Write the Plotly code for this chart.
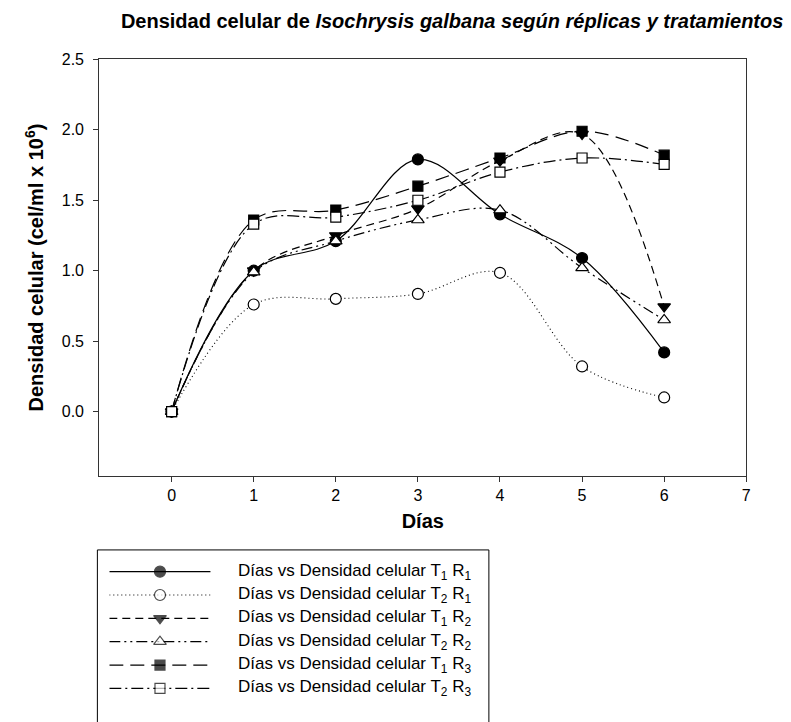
import plotly.graph_objects as go

W, H = 791, 722

# ---------------- data ----------------
dias = [0, 1, 2, 3, 4, 5, 6]
t1r1 = [0.00, 1.00, 1.21, 1.79, 1.40, 1.09, 0.42]
t2r1 = [0.00, 0.76, 0.80, 0.835, 0.985, 0.32, 0.10]
t1r2 = [0.00, 1.00, 1.25, 1.44, 1.78, 1.97, 0.745]
t2r2 = [0.00, 0.99, 1.21, 1.36, 1.43, 1.02, 0.65]
t1r3 = [0.00, 1.36, 1.43, 1.60, 1.80, 1.99, 1.82]
t2r3 = [0.00, 1.33, 1.38, 1.50, 1.70, 1.80, 1.755]

series_names = [
    "Días vs Densidad celular T<sub>1</sub> R<sub>1</sub>",
    "Días vs Densidad celular T<sub>2</sub> R<sub>1</sub>",
    "Días vs Densidad celular T<sub>1</sub> R<sub>2</sub>",
    "Días vs Densidad celular T<sub>2</sub> R<sub>2</sub>",
    "Días vs Densidad celular T<sub>1</sub> R<sub>3</sub>",
    "Días vs Densidad celular T<sub>2</sub> R<sub>3</sub>",
]
series_values = [t1r1, t2r1, t1r2, t2r2, t1r3, t2r3]

x_ticks = [0, 1, 2, 3, 4, 5, 6, 7]
y_ticks = [0.0, 0.5, 1.0, 1.5, 2.0, 2.5]

# ---------------- styles ----------------
symbols = ["circle", "circle-open", "triangle-down", "triangle-up-open", "square", "square-open"]
fills = ["black", "white", "black", "white", "black", "white"]
sizes = [11, 11, 11, 11, 10, 10]
dashes = ["solid", "1px,3px", "8px,5px", "11px,4px,2px,4px,2px,4px", "14px,7px", "12px,4px,2px,4px"]
line_widths = [1.2, 1.1, 1.2, 1.2, 1.2, 1.2]

FONT = "Liberation Sans, Arial, sans-serif"

# pixel layout helpers (paper == whole figure, margins 0)
def px(x):
    return x / W

def py(y):
    return 1 - y / H

plot_l, plot_r, plot_t, plot_b = 100, 751, 52, 473

fig = go.Figure()

for name, vals, sym, fc, sz, dash, lw in zip(series_names, series_values, symbols, fills, sizes, dashes, line_widths):
    fig.add_trace(go.Scatter(
        x=dias, y=vals, name=name, mode="lines+markers",
        line=dict(color="black", width=lw, dash=dash, shape="spline", smoothing=1),
        marker=dict(symbol=sym.replace("-open", ""), size=sz, color=fc,
                    line=dict(color="black", width=1.2)),
        showlegend=False, xaxis="x", yaxis="y",
    ))

# ---------------- custom legend (long line samples) ----------------
legend_rows = list(range(len(series_names)))
for i, (name, sym, fc, sz, dash, lw) in enumerate(zip(series_names, symbols, fills, sizes, dashes, line_widths)):
    fig.add_trace(go.Scatter(
        x=[0, 0.5, 1], y=[legend_rows[i]] * 3, mode="lines+markers",
        line=dict(color="black", width=lw, dash=dash),
        marker=dict(symbol=sym.replace("-open", ""), size=[0, sz, 0], color=fc,
                    line=dict(color="black", width=[0, 1.2, 0])),
        showlegend=False, hoverinfo="skip", xaxis="x2", yaxis="y2",
    ))

row0, row_step = 570, 23.6
annotations = []
for i, name in enumerate(series_names):
    annotations.append(dict(
        x=px(237), y=py(row0 + row_step * i), xref="paper", yref="paper",
        text=name, showarrow=False, xanchor="left", yanchor="middle",
        font=dict(family=FONT, size=17, color="black"),
    ))

shapes = [dict(
    type="rect", xref="paper", yref="paper",
    x0=px(98), x1=px(492), y0=py(548), y1=py(780),
    line=dict(color="black", width=1), fillcolor="rgba(0,0,0,0)", layer="above",
)]

axis_line = "#333333"

fig.update_layout(
    width=W, height=H,
    margin=dict(l=0, r=0, t=0, b=0),
    paper_bgcolor="white", plot_bgcolor="white",
    font=dict(family=FONT, color="black"),
    title=dict(
        text="<b>Densidad celular de <i>Isochrysis galbana según réplicas y tratamientos</i></b>",
        x=px(455), y=py(13), xanchor="center", yanchor="middle",
        xref="paper", yref="paper",
        font=dict(family=FONT, size=20, color="black"),
    ),
    xaxis=dict(
        domain=[px(plot_l), px(plot_r)], range=[-0.88, 7],
        tickmode="array", tickvals=x_ticks, ticktext=[str(v) for v in x_ticks],
        ticks="outside", ticklen=5, tickwidth=1, tickcolor=axis_line,
        showline=True, linecolor=axis_line, linewidth=1.3, mirror=True,
        showgrid=False, zeroline=False,
        tickfont=dict(family=FONT, size=16, color="black"),
        ticklabelstandoff=0,
        title=dict(text="<b>Días</b>", font=dict(family=FONT, size=20, color="black"), standoff=10),
        anchor="y",
    ),
    yaxis=dict(
        domain=[py(plot_b), py(plot_t)], range=[-0.456, 2.5],
        tickmode="array", tickvals=y_ticks, ticktext=[f"{v:.1f}" for v in y_ticks],
        ticks="outside", ticklen=5, tickwidth=1, tickcolor=axis_line,
        showline=True, linecolor=axis_line, linewidth=1.3, mirror=True,
        showgrid=False, zeroline=False,
        tickfont=dict(family=FONT, size=16, color="black"),
        ticklabelstandoff=6,
        title=dict(text="<b>Densidad celular (cel/ml x 10<sup>6</sup>)</b>",
                   font=dict(family=FONT, size=20, color="black"), standoff=12),
        anchor="x",
    ),
    xaxis2=dict(
        domain=[px(110), px(212)], range=[0, 1], visible=False, fixedrange=True, anchor="y2",
    ),
    yaxis2=dict(
        domain=[py(row0 + row_step * 5.5), py(row0 - row_step * 0.5)],
        range=[5.5, -0.5], visible=False, fixedrange=True, anchor="x2",
    ),
    annotations=annotations,
    shapes=shapes,
    showlegend=False,
)

fig.write_html("out.html")
